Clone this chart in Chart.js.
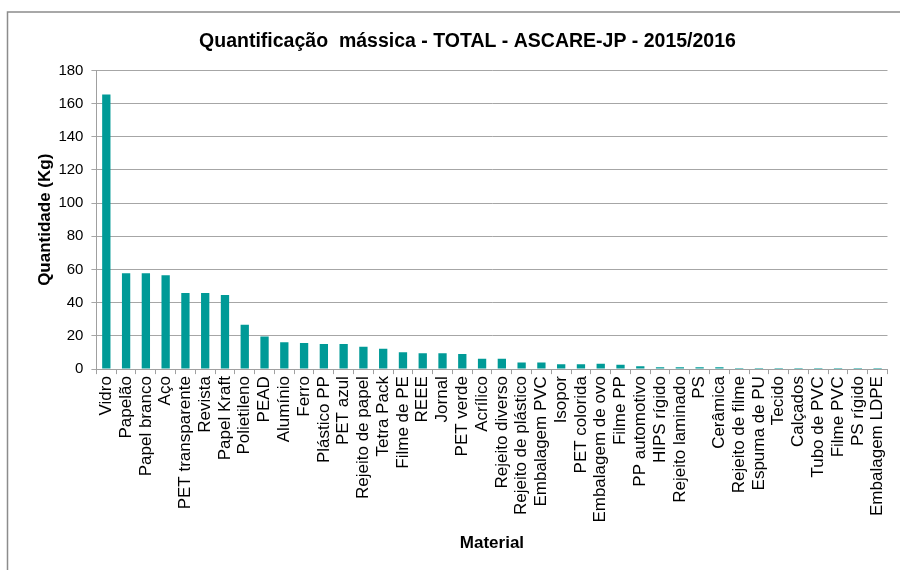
<!DOCTYPE html>
<html>
<head>
<meta charset="utf-8">
<script src="https://cdn.jsdelivr.net/npm/chart.js@4/dist/chart.umd.min.js"></script>
<style>
html,body{margin:0;padding:0;background:#fff;}
#wrap{width:900px;height:570px;position:relative;}
</style>
</head>
<body>
<div id="wrap"><canvas id="c" width="900" height="570"></canvas></div>
<script>
const categories = ["Vidro","Papelão","Papel branco","Aço","PET transparente","Revista","Papel Kraft","Polietileno","PEAD","Alumínio","Ferro","Plástico PP","PET azul","Rejeito de papel","Tetra Pack","Filme de PE","REEE","Jornal","PET verde","Acrílico","Rejeito diverso","Rejeito de plástico","Embalagem PVC","Isopor","PET colorida","Embalagem de ovo","Filme PP","PP automotivo","HIPS rígido","Rejeito laminado","PS","Cerâmica","Rejeito de filme","Espuma de PU","Tecido","Calçados","Tubo de PVC","Filme PVC","PS rígido","Embalagem LDPE"];
const quantidadeKg = [165.5,57.8,57.8,56.6,45.9,45.9,44.7,26.7,19.6,16.2,15.8,15.2,15.2,13.5,12.3,10.1,9.5,9.5,9.1,6.3,6.3,4.0,4.0,3.0,3.0,3.2,2.7,1.8,1.2,1.2,1.2,1.2,0.7,0.7,0.7,0.7,0.7,0.7,0.7,0.7];
const yTicks = [0,20,40,60,80,100,120,140,160,180];

const frame = {
  id:'frame',
  beforeDraw(chart){
    const ctx = chart.ctx;
    ctx.save();
    ctx.strokeStyle = '#8c8c8c';
    ctx.lineWidth = 1.5;
    ctx.beginPath();
    ctx.moveTo(7.5, 570);
    ctx.lineTo(7.5, 12);
    ctx.lineTo(900, 12);
    ctx.stroke();
    ctx.restore();
  }
};

new Chart(document.getElementById('c'), {
  type:'bar',
  data:{
    labels:categories,
    datasets:[{
      data:quantidadeKg,
      backgroundColor:'#009a97',
      borderWidth:0,
      barPercentage:0.42,
      categoryPercentage:1.0
    }]
  },
  options:{
    responsive:false,
    animation:false,
    devicePixelRatio:1,
    layout:{padding:{left:31,right:-4,top:16,bottom:12}},
    plugins:{
      legend:{display:false},
      tooltip:{enabled:false},
      title:{
        display:true,
        text:'Quantificação  mássica - TOTAL - ASCARE-JP - 2015/2016',
        color:'#000',
        font:{family:"'Liberation Sans', Arial, sans-serif",size:19.5,weight:'bold'},
        padding:{top:14,bottom:17}
      }
    },
    scales:{
      x:{
        grid:{display:true,drawOnChartArea:false,color:'#a0a0a0',tickLength:5,tickColor:'#a0a0a0'},
        border:{color:'#a0a0a0'},
        ticks:{color:'#000',font:{family:"'Liberation Sans', Arial, sans-serif",size:17},minRotation:90,maxRotation:90,autoSkip:false,padding:2},
        title:{display:true,text:'Material',color:'#000',font:{family:"'Liberation Sans', Arial, sans-serif",size:17,weight:'bold'},padding:{top:9,bottom:4}}
      },
      y:{
        min:0,max:180,
        afterBuildTicks(scale){ scale.ticks = yTicks.map(v=>({value:v})); },
        grid:{color:'#a6a6a6',tickLength:5,tickColor:'#a6a6a6'},
        border:{color:'#a0a0a0'},
        ticks:{color:'#000',font:{family:"'Liberation Sans', Arial, sans-serif",size:15},padding:8},
        title:{display:true,text:'Quantidade (Kg)',color:'#000',font:{family:"'Liberation Sans', Arial, sans-serif",size:17,weight:'bold'},padding:{top:4,bottom:-5}}
      }
    }
  },
  plugins:[frame]
});
</script>
</body>
</html>
